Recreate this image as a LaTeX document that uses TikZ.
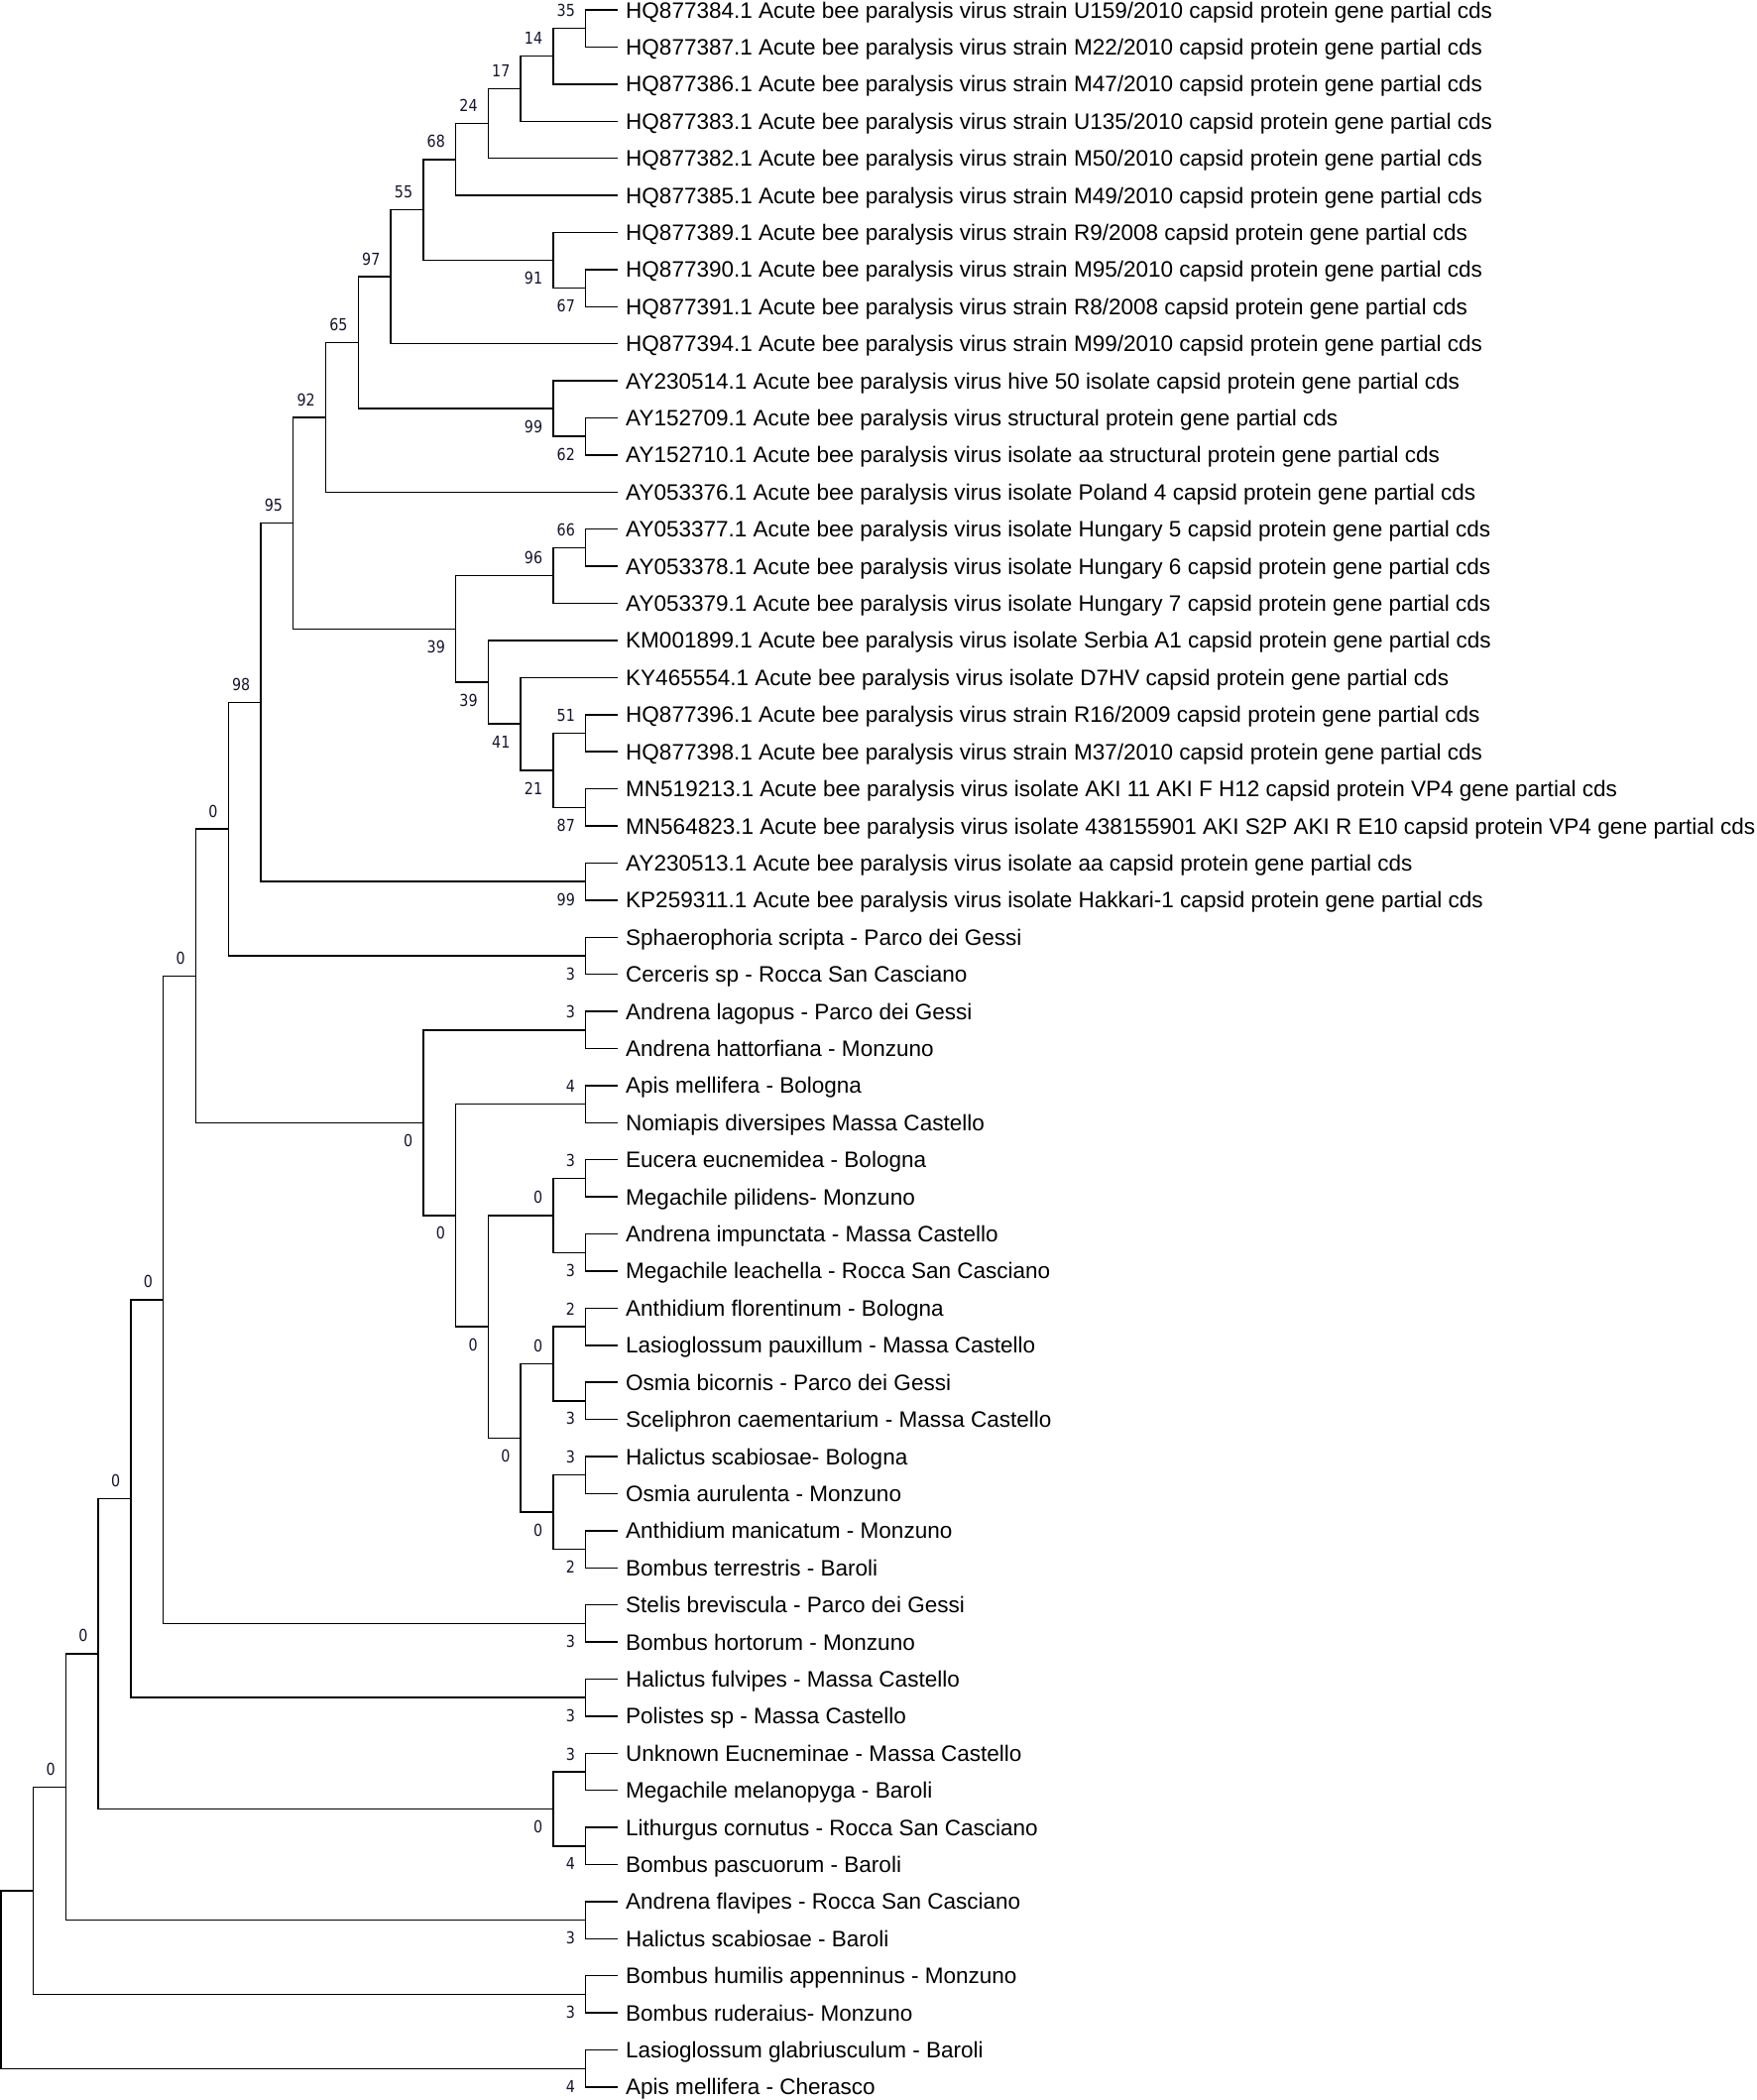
\documentclass[tikz,border=0pt]{standalone}
\usepackage{fontspec}
\setmainfont{Liberation Sans}
\newfontfamily\bsfont[FakeStretch=0.86]{DejaVu Sans}
\usetikzlibrary{calc}
\definecolor{bscol}{RGB}{20,20,45}
\tikzset{
  br/.style={line width=1.45pt, draw=black},
  leaf/.style={anchor=base west, inner sep=0pt, font=\fontsize{22.52}{27}\selectfont},
  bs/.style={anchor=east, inner sep=0pt, text=bscol, font=\bsfont\fontsize{16.6}{19}\selectfont}
}
\newcommand\phynode[4]{%
  \path let \p1=(#3), \p2=(#4) in coordinate (#1) at ({(590.6-32.76*(#2-1))*1pt},{0.5*\y1+0.5*\y2});
  \draw[br] (#3) -| (#1) |- (#4);}
\newcommand\bsup[2]{\node[bs] (lab-#1) at ([xshift=-10.5pt,yshift=18pt]#1) {#2};}
\newcommand\bsdn[2]{\node[bs] (lab-#1) at ([xshift=-10.5pt,yshift=-18pt]#1) {#2};}
\begin{document}
\begin{tikzpicture}[x=1pt,y=-1pt]
\fill[white] (0,0) rectangle (1772,2118);
\useasboundingbox (0,0) rectangle (1772,2118);
\foreach \t [count=\i] in {
HQ877384.1 Acute bee paralysis virus strain U159/2010 capsid protein gene partial cds,
HQ877387.1 Acute bee paralysis virus strain M22/2010 capsid protein gene partial cds,
HQ877386.1 Acute bee paralysis virus strain M47/2010 capsid protein gene partial cds,
HQ877383.1 Acute bee paralysis virus strain U135/2010 capsid protein gene partial cds,
HQ877382.1 Acute bee paralysis virus strain M50/2010 capsid protein gene partial cds,
HQ877385.1 Acute bee paralysis virus strain M49/2010 capsid protein gene partial cds,
HQ877389.1 Acute bee paralysis virus strain R9/2008 capsid protein gene partial cds,
HQ877390.1 Acute bee paralysis virus strain M95/2010 capsid protein gene partial cds,
HQ877391.1 Acute bee paralysis virus strain R8/2008 capsid protein gene partial cds,
HQ877394.1 Acute bee paralysis virus strain M99/2010 capsid protein gene partial cds,
AY230514.1 Acute bee paralysis virus hive 50 isolate capsid protein gene partial cds,
AY152709.1 Acute bee paralysis virus structural protein gene partial cds,
AY152710.1 Acute bee paralysis virus isolate aa structural protein gene partial cds,
AY053376.1 Acute bee paralysis virus isolate Poland 4 capsid protein gene partial cds,
AY053377.1 Acute bee paralysis virus isolate Hungary 5 capsid protein gene partial cds,
AY053378.1 Acute bee paralysis virus isolate Hungary 6 capsid protein gene partial cds,
AY053379.1 Acute bee paralysis virus isolate Hungary 7 capsid protein gene partial cds,
KM001899.1 Acute bee paralysis virus isolate Serbia A1 capsid protein gene partial cds,
KY465554.1 Acute bee paralysis virus isolate D7HV capsid protein gene partial cds,
HQ877396.1 Acute bee paralysis virus strain R16/2009 capsid protein gene partial cds,
HQ877398.1 Acute bee paralysis virus strain M37/2010 capsid protein gene partial cds,
MN519213.1 Acute bee paralysis virus isolate AKI 11 AKI F H12 capsid protein VP4 gene partial cds,
MN564823.1 Acute bee paralysis virus isolate 438155901 AKI S2P AKI R E10 capsid protein VP4 gene partial cds,
AY230513.1 Acute bee paralysis virus isolate aa capsid protein gene partial cds,
KP259311.1 Acute bee paralysis virus isolate Hakkari-1 capsid protein gene partial cds,
Sphaerophoria scripta - Parco dei Gessi,
Cerceris sp - Rocca San Casciano,
Andrena lagopus - Parco dei Gessi,
Andrena hattorfiana - Monzuno,
Apis mellifera - Bologna,
Nomiapis diversipes Massa Castello,
Eucera eucnemidea - Bologna,
Megachile pilidens- Monzuno,
Andrena impunctata - Massa Castello,
Megachile leachella - Rocca San Casciano,
Anthidium florentinum - Bologna,
Lasioglossum pauxillum - Massa Castello,
Osmia bicornis - Parco dei Gessi,
Sceliphron caementarium - Massa Castello,
Halictus scabiosae- Bologna,
Osmia aurulenta - Monzuno,
Anthidium manicatum - Monzuno,
Bombus terrestris - Baroli,
Stelis breviscula - Parco dei Gessi,
Bombus hortorum - Monzuno,
Halictus fulvipes - Massa Castello,
Polistes sp - Massa Castello,
Unknown Eucneminae - Massa Castello,
Megachile melanopyga - Baroli,
Lithurgus cornutus - Rocca San Casciano,
Bombus pascuorum - Baroli,
Andrena flavipes - Rocca San Casciano,
Halictus scabiosae - Baroli,
Bombus humilis appenninus - Monzuno,
Bombus ruderaius- Monzuno,
Lasioglossum glabriusculum - Baroli,
Apis mellifera - Cherasco}{
  \node[leaf] (l\i) at (631,{10+(\i-1)*37.41+8}) {\t};
  \coordinate (t\i) at (622.5,{10+(\i-1)*37.41});
}
% virus clade
\phynode{v12}{1}{t1}{t2}\bsup{v12}{35}
\phynode{v123}{2}{v12}{t3}\bsup{v123}{14}
\phynode{v1234}{3}{v123}{t4}\bsup{v1234}{17}
\phynode{v15}{4}{v1234}{t5}\bsup{v15}{24}
\phynode{v16}{5}{v15}{t6}\bsup{v16}{68}
\phynode{v89}{1}{t8}{t9}\bsdn{v89}{67}
\phynode{v79}{2}{t7}{v89}\bsdn{v79}{91}
\phynode{v19}{6}{v16}{v79}\bsup{v19}{55}
\phynode{v110}{7}{v19}{t10}\bsup{v110}{97}
\phynode{v1213}{1}{t12}{t13}\bsdn{v1213}{62}
\phynode{v1113}{2}{t11}{v1213}\bsdn{v1113}{99}
\phynode{v113}{8}{v110}{v1113}\bsup{v113}{65}
\phynode{v114}{9}{v113}{t14}\bsup{v114}{92}
\phynode{v1516}{1}{t15}{t16}\bsup{v1516}{66}
\phynode{v1517}{2}{v1516}{t17}\bsup{v1517}{96}
\phynode{v2021}{1}{t20}{t21}\bsup{v2021}{51}
\phynode{v2223}{1}{t22}{t23}\bsdn{v2223}{87}
\phynode{v2023}{2}{v2021}{v2223}\bsdn{v2023}{21}
\phynode{v1923}{3}{t19}{v2023}\bsdn{v1923}{41}
\phynode{v1823}{4}{t18}{v1923}\bsdn{v1823}{39}
\phynode{v1523}{5}{v1517}{v1823}\bsdn{v1523}{39}
\phynode{vA}{10}{v114}{v1523}\bsup{vA}{95}
\phynode{v2425}{1}{t24}{t25}\bsdn{v2425}{99}
\phynode{v125}{11}{vA}{v2425}\bsup{v125}{98}
\phynode{v2627}{1}{t26}{t27}\bsdn{v2627}{3}
\phynode{v127}{12}{v125}{v2627}\bsup{v127}{0}
% bee clade
\phynode{b2829}{1}{t28}{t29}\bsup{b2829}{3}
\phynode{b3031}{1}{t30}{t31}\bsup{b3031}{4}
\phynode{b3233}{1}{t32}{t33}\bsup{b3233}{3}
\phynode{b3435}{1}{t34}{t35}\bsdn{b3435}{3}
\phynode{b3235}{2}{b3233}{b3435}\bsup{b3235}{0}
\phynode{b3637}{1}{t36}{t37}\bsup{b3637}{2}
\phynode{b3839}{1}{t38}{t39}\bsdn{b3839}{3}
\phynode{b3639}{2}{b3637}{b3839}\bsup{b3639}{0}
\phynode{b4041}{1}{t40}{t41}\bsup{b4041}{3}
\phynode{b4243}{1}{t42}{t43}\bsdn{b4243}{2}
\phynode{b4043}{2}{b4041}{b4243}\bsdn{b4043}{0}
\phynode{b3643}{3}{b3639}{b4043}\bsdn{b3643}{0}
\phynode{b3243}{4}{b3235}{b3643}\bsdn{b3243}{0}
\phynode{b3043}{5}{b3031}{b3243}\bsdn{b3043}{0}
\phynode{b2843}{6}{b2829}{b3043}\bsdn{b2843}{0}
\phynode{n143}{13}{v127}{b2843}\bsup{n143}{0}
\phynode{b4445}{1}{t44}{t45}\bsdn{b4445}{3}
\phynode{n145}{14}{n143}{b4445}\bsup{n145}{0}
\phynode{b4647}{1}{t46}{t47}\bsdn{b4647}{3}
\phynode{n147}{15}{n145}{b4647}\bsup{n147}{0}
\phynode{b4849}{1}{t48}{t49}\bsup{b4849}{3}
\phynode{b5051}{1}{t50}{t51}\bsdn{b5051}{4}
\phynode{b4851}{2}{b4849}{b5051}\bsdn{b4851}{0}
\phynode{n151}{16}{n147}{b4851}\bsup{n151}{0}
\phynode{b5253}{1}{t52}{t53}\bsdn{b5253}{3}
\phynode{n153}{17}{n151}{b5253}\bsup{n153}{0}
\phynode{b5455}{1}{t54}{t55}\bsdn{b5455}{3}
\phynode{n155}{18}{n153}{b5455}
\phynode{b5657}{1}{t56}{t57}\bsdn{b5657}{4}
\phynode{root}{19}{n155}{b5657}
\end{tikzpicture}
\end{document}
